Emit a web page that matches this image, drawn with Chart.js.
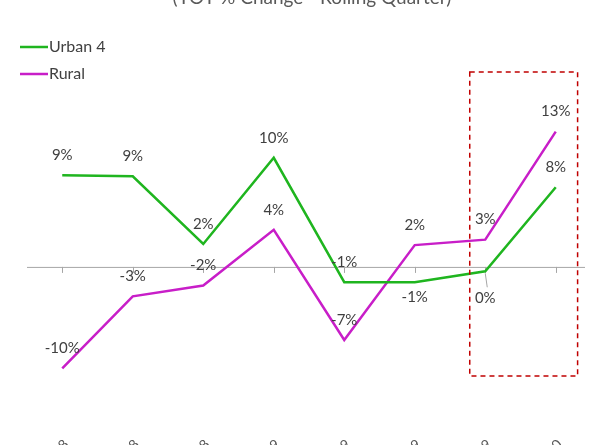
<!DOCTYPE html>
<html><head><meta charset="utf-8">
<script src="https://cdn.jsdelivr.net/npm/chart.js@4"></script>
<style>html,body{margin:0;padding:0;background:#fff}#c{display:block}</style>
</head><body>
<canvas id="c" width="600" height="445"></canvas>
<script>
const categories = ["Q2 2018","Q3 2018","Q4 2018","Q1 2019","Q2 2019","Q3 2019","Q4 2019","Q1 2020"];
const urban = [8.4, 8.3, 2.1, 10.0, -1.4, -1.4, -0.4, 7.3];
const rural = [-9.3, -2.7, -1.7, 3.4, -6.7, 2.0, 2.5, 12.4];
const urbanLabels = ["9%","9%","2%","10%","-1%","-1%","0%","8%"];
const ruralLabels = ["-10%","-3%","-2%","4%","-7%","2%","3%","13%"];
const urbanDy = [-20,-20,-20,-20,-20,15,27,-20];
const ruralDy = [-20,-20,-20,-20,-20,-20,-20,-20];
const FONT = "Lato, 'Open Sans', sans-serif";

const deco = {
  id:'deco',
  beforeDatasetsDraw(ch){
    const c=ch.ctx, x=ch.scales.x, y=ch.scales.y, a=ch.chartArea;
    const y0=y.getPixelForValue(0);
    c.save();
    c.strokeStyle='#a6a6a6'; c.lineWidth=1;
    c.beginPath(); c.moveTo(a.left,y0+0.5); c.lineTo(a.right-6,y0+0.5); c.stroke();
    categories.forEach((_,i)=>{const px=Math.round(x.getPixelForValue(i))+0.5;c.beginPath();c.moveTo(px,y0);c.lineTo(px,y0+6);c.stroke();});
    // leader line for 0%
    const p6=x.getPixelForValue(6), v6=y.getPixelForValue(urban[6]);
    c.beginPath(); c.moveTo(p6,v6+2); c.lineTo(p6+2,v6+16); c.stroke();
    c.restore();
  },
  afterDatasetsDraw(ch){
    const c=ch.ctx, x=ch.scales.x, y=ch.scales.y, a=ch.chartArea;
    c.save();
    c.font='15px '+FONT; c.fillStyle='#404040'; c.textAlign='center'; c.textBaseline='middle';
    categories.forEach((_,i)=>{
      c.fillText(urbanLabels[i], x.getPixelForValue(i), y.getPixelForValue(urban[i])+urbanDy[i]);
      c.fillText(ruralLabels[i], x.getPixelForValue(i), y.getPixelForValue(rural[i])+ruralDy[i]);
    });
    // dashed box
    const step=x.getPixelForValue(1)-x.getPixelForValue(0);
    const l=x.getPixelForValue(6)-step*0.22, r=x.getPixelForValue(7)+step*0.31;
    c.strokeStyle='#c00000'; c.lineWidth=1.5; c.setLineDash([5,4]);
    c.strokeRect(l,72,r-l,304); c.setLineDash([]);
    // x labels rotated
    c.font='14px '+FONT; c.fillStyle='#595959'; c.textAlign='right'; c.textBaseline='middle';
    categories.forEach((t,i)=>{c.save();c.translate(x.getPixelForValue(i)+4,442);c.rotate(-Math.PI/4);c.fillText(t,0,0);c.restore();});
    // title
    c.font='19px '+FONT; c.fillStyle='#595959'; c.textAlign='center'; c.textBaseline='alphabetic';
    c.fillText('(YOY % Change - Rolling Quarter)', 312, 4);
    // legend
    c.font='16px '+FONT; c.textAlign='left'; c.textBaseline='middle'; c.lineWidth=2.5;
    [['Urban 4','#1fb51f',47],['Rural','#c81ec8',74]].forEach(([t,col,yy])=>{
      c.strokeStyle=col; c.beginPath(); c.moveTo(20,yy); c.lineTo(48,yy); c.stroke();
      c.fillStyle='#404040'; c.fillText(t,49,yy);
    });
    c.restore();
  }
};

new Chart(document.getElementById('c'),{
  type:'line',
  data:{labels:categories,datasets:[
    {label:'Urban 4',data:urban,borderColor:'#1fb51f',borderWidth:2.5,pointRadius:0,tension:0,fill:false},
    {label:'Rural',data:rural,borderColor:'#c81ec8',borderWidth:2.5,pointRadius:0,tension:0,fill:false}
  ]},
  options:{
    responsive:false,animation:false,
    layout:{padding:{top:100,bottom:45,left:27,right:9}},
    plugins:{legend:{display:false},tooltip:{enabled:false}},
    scales:{
      x:{display:false,offset:true},
      y:{display:false,min:-12.2,max:15.3}
    }
  },
  plugins:[deco]
});
</script>
</body></html>
